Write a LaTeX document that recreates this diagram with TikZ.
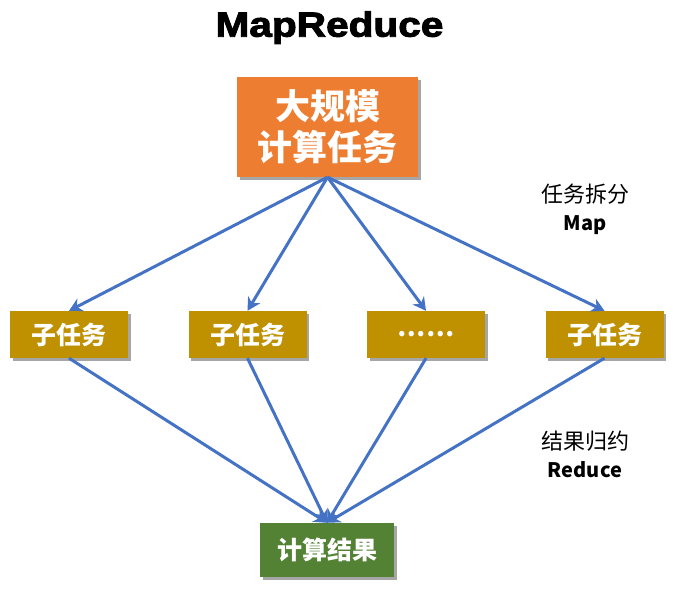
\documentclass[tikz,border=0pt]{standalone}
\usepackage{fontspec}
\setmainfont{Liberation Sans}
\newfontfamily\titlefont{Liberation Sans Bold}[FakeBold=2.5]
\newfontfamily\cjk{Noto Sans CJK SC}
\usetikzlibrary{arrows.meta,shadows}

\definecolor{bigorange}{HTML}{ED7D31}
\definecolor{subgold}{HTML}{BF9000}
\definecolor{resgreen}{HTML}{548235}
\definecolor{flowblue}{HTML}{4472C4}

\tikzset{
	box/.style={text=white, inner sep=0pt, align=center,
		drop shadow={shadow xshift=2.5pt, shadow yshift=-3pt, opacity=0.35, fill=black}},
	subbox/.style={box, fill=subgold, minimum width=118pt, minimum height=47pt,
		font=\cjk\bfseries\fontsize{25}{25}\selectfont},
	flow/.style={draw=flowblue, line width=3pt, -{Stealth[length=13pt, width=14pt]}},
	note/.style={align=center, font=\cjk\fontsize{22}{28}\selectfont}
}

\begin{document}
\begin{tikzpicture}[x=1pt, y=-1pt]
	\useasboundingbox (0, 0) rectangle (673, 591);

	\draw (329.5, 36.7) 	node[anchor=base, font=\titlefont\fontsize{35}{35}\selectfont] (title) 	{\scalebox{1.16}[1]{MapReduce}};

	\draw (327.5, 127) 	node[box, fill=bigorange, minimum width=181pt, minimum height=100pt,
		font=\cjk\bfseries\fontsize{35}{41}\selectfont] (job) 	{大规模\\计算任务};
	\draw (69, 334.5) 		node[subbox] (sub1) 	{子任务};
	\draw (247.5, 334.5) 	node[subbox] (sub2) 	{子任务};
	\draw (426, 334.5) 	node[subbox] (sub3) 	{\raisebox{-3pt}{……}};
	\draw (604.5, 334.5) 	node[subbox] (sub4) 	{子任务};
	\draw (327, 550) 		node[box, fill=resgreen, minimum width=134pt, minimum height=54pt,
		font=\cjk\bfseries\fontsize{25}{25}\selectfont] (result) 	{计算结果};

	\draw (585, 209) 		node[note] (map) 		{任务拆分\\{\bfseries\fontsize{20}{28}\selectfont Map}};
	\draw (585, 454) 		node[note] (reduce) 	{结果归约\\{\bfseries\fontsize{20}{28}\selectfont Reduce}};

	\foreach \s in {sub1, sub2, sub3, sub4} {
		\draw[flow] (job.south) -- (\s.north);
		\draw[flow] (\s.south) -- (result.north);
	}
\end{tikzpicture}
\end{document}
